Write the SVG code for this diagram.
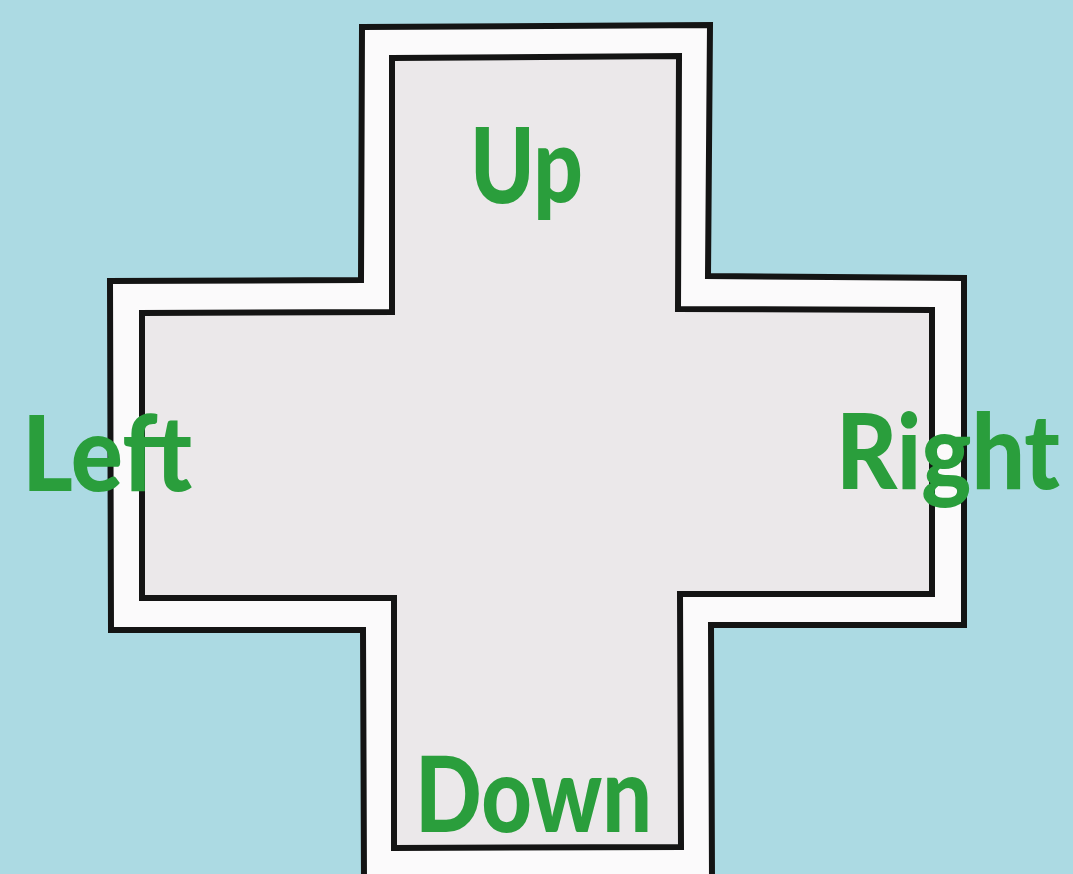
<svg xmlns="http://www.w3.org/2000/svg" width="1073" height="874" viewBox="0 0 1073 874">
<style>
.lbl{font-family:Lato,"Open Sans","Liberation Sans",sans-serif;font-weight:900;font-size:104px;fill:#2a9e3c;}
.outer{fill:#fbfafb;stroke:#141414;stroke-width:6;stroke-linejoin:miter;}
.inner{fill:#ebe8ea;stroke:#141414;stroke-width:6;stroke-linejoin:miter;}
</style>
<rect x="0" y="0" width="1073" height="874" fill="#acdae3"/>
<g id="dpad">
<path class="outer" d="M362,27 L710,25 L708,276 L964,278 L964,625 L711,625 L712,880 L364,880 L363,630 L111,630 L110,281 L361,280 Z"/>
<path class="inner" d="M392,58 L679,56 L678,309 L932,310 L932,594 L680,594 L681,847 L394,848 L394,598 L142,598 L142,313 L392,312 Z"/>
</g>
<g id="label-up"><text class="lbl" x="470" y="203" textLength="113" lengthAdjust="spacingAndGlyphs">Up</text></g>
<g id="label-left"><text class="lbl" x="22" y="491" textLength="170" lengthAdjust="spacingAndGlyphs">Left</text></g>
<g id="label-right"><text class="lbl" x="836" y="489" textLength="224" lengthAdjust="spacingAndGlyphs">Right</text></g>
<g id="label-down"><text class="lbl" x="415" y="832" textLength="237" lengthAdjust="spacingAndGlyphs">Down</text></g>
</svg>
